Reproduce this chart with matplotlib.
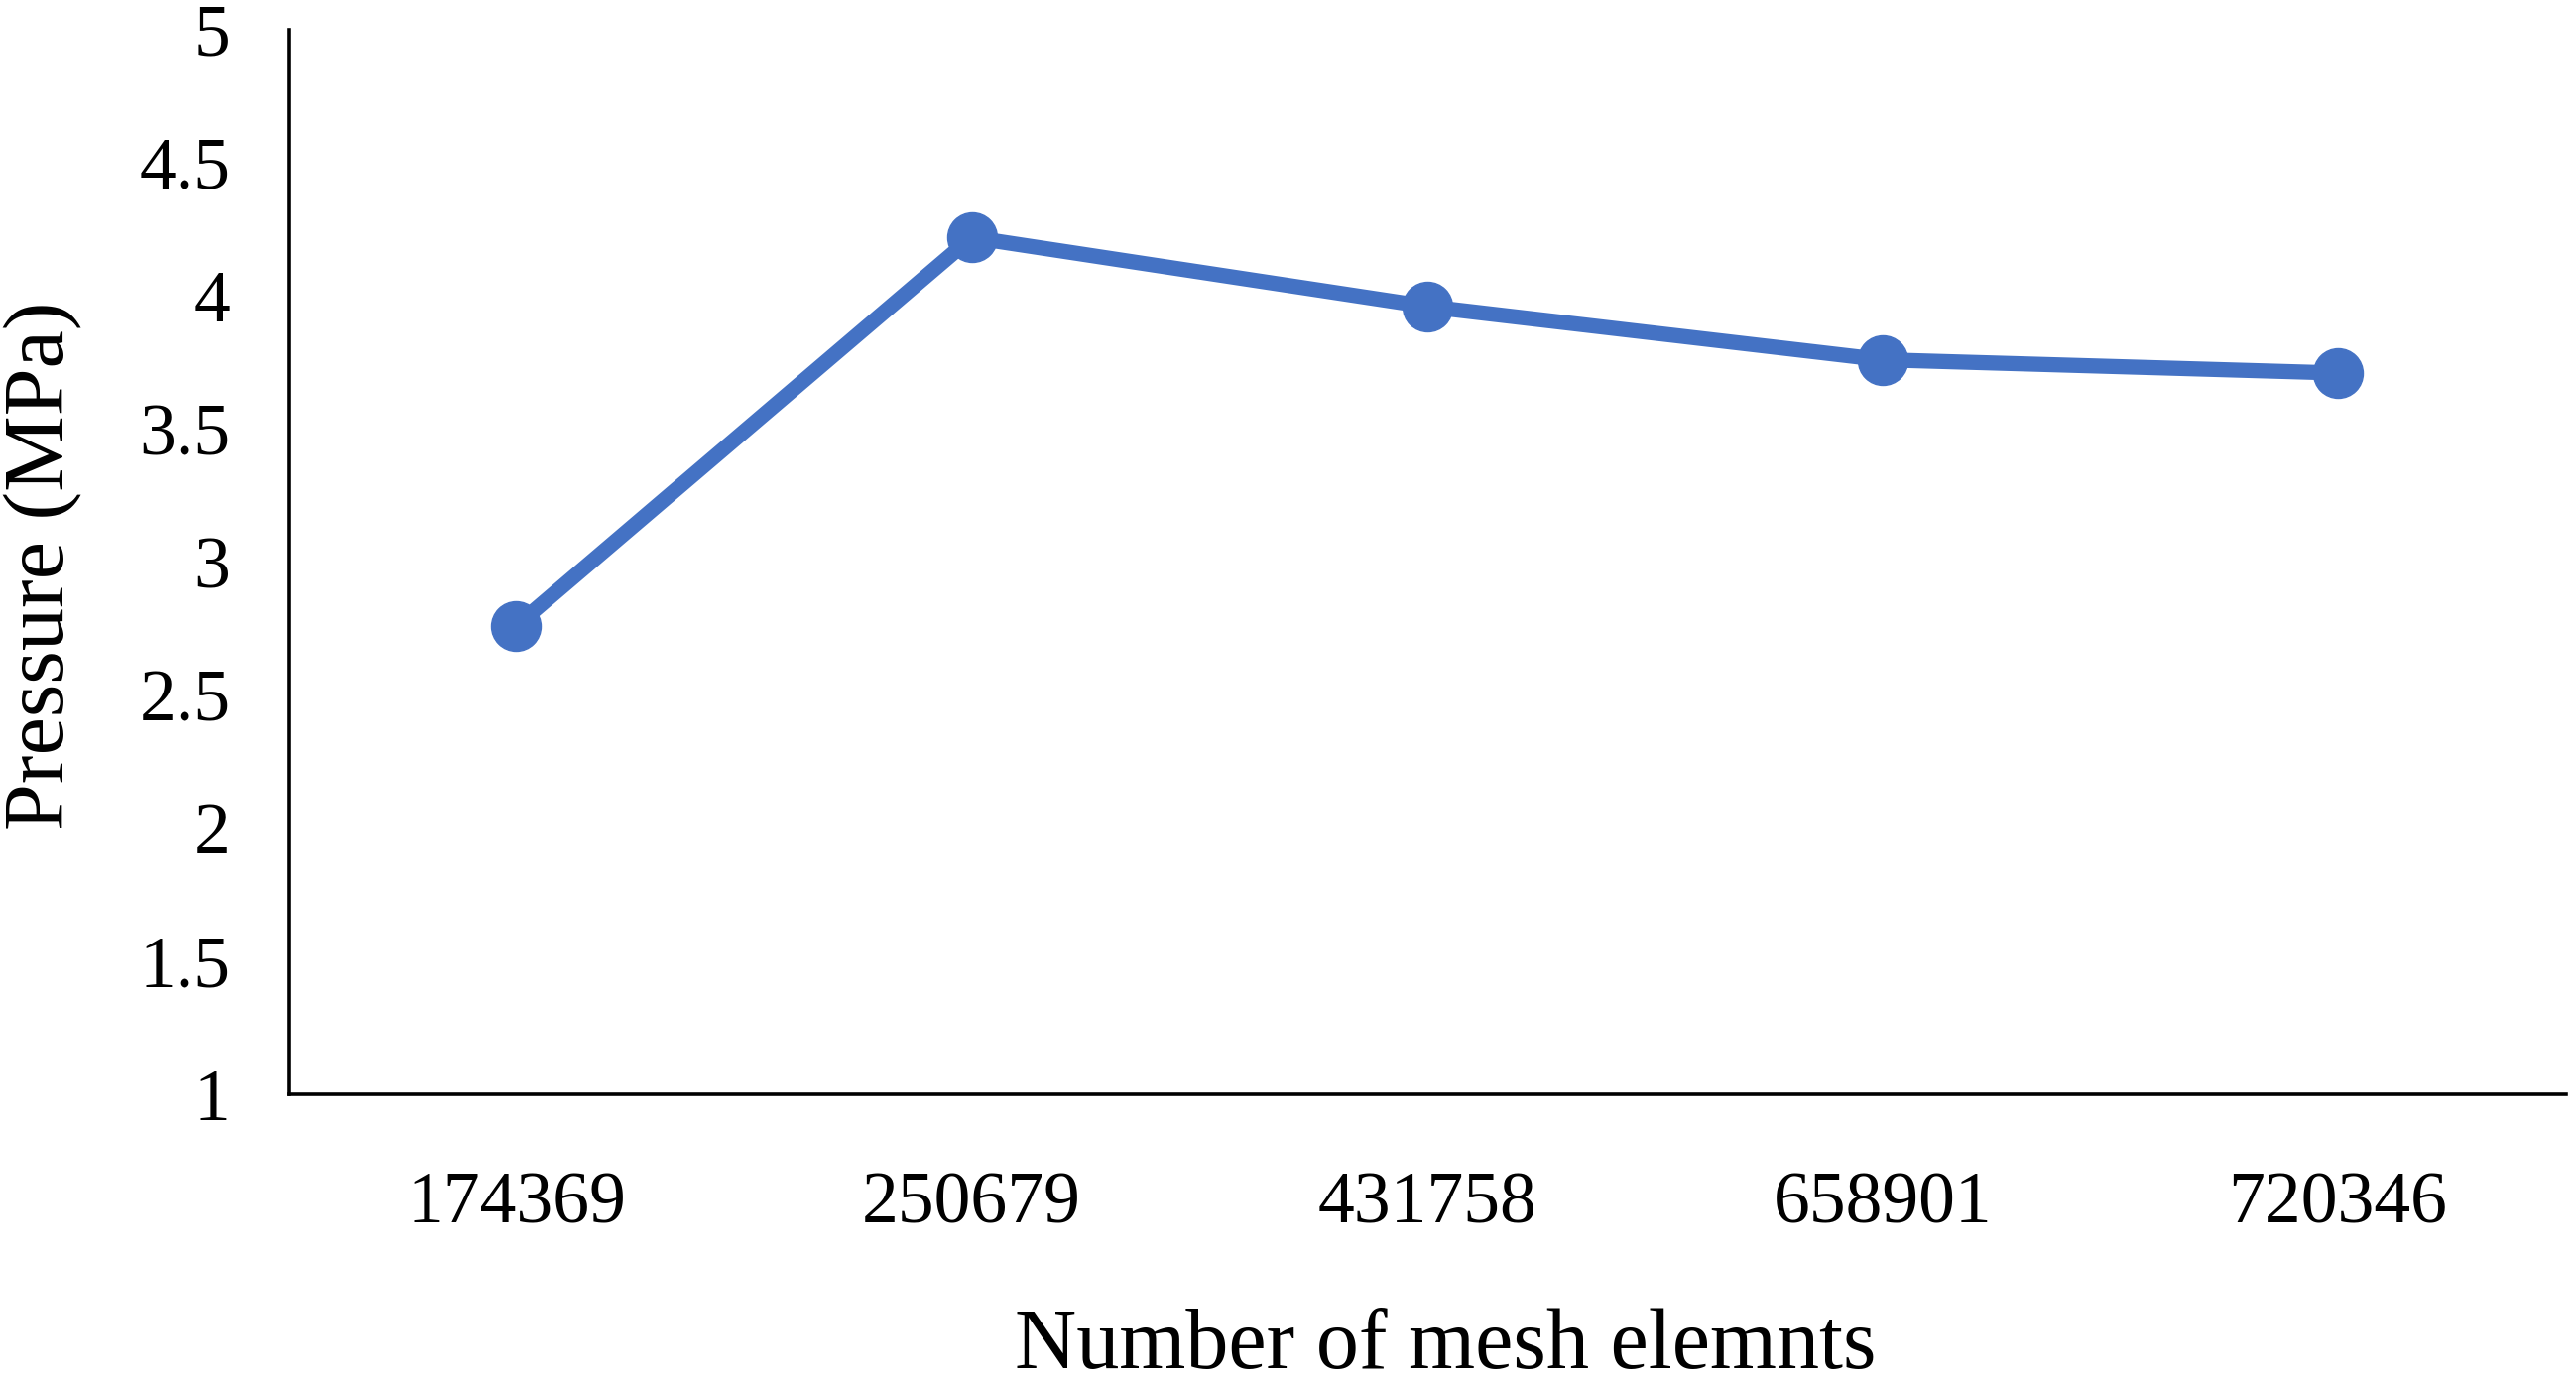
import matplotlib.pyplot as plt

# mesh independence data
mesh_elements = ['174369', '250679', '431758', '658901', '720346']
pressure = [2.76, 4.22, 3.96, 3.76, 3.71]
y_ticks = [1, 1.5, 2, 2.5, 3, 3.5, 4, 4.5, 5]
y_tick_labels = ['1', '1.5', '2', '2.5', '3', '3.5', '4', '4.5', '5']

plt.rcParams['font.family'] = ['Liberation Serif', 'DejaVu Serif']

fig = plt.figure(figsize=(25.97, 13.96), dpi=100)
ax = fig.add_axes([0.112, 0.21, 0.884, 0.7685])

ax.plot(range(len(mesh_elements)), pressure, linestyle='-', color='#4472C4',
        linewidth=11, marker='o', markersize=36, solid_capstyle='round')

ax.set_xlim(-0.5, len(mesh_elements) - 0.5)
ax.set_ylim(1, 5)
ax.set_xticks(range(len(mesh_elements)))
ax.set_xticklabels(mesh_elements)
ax.set_yticks(y_ticks)
ax.set_yticklabels(y_tick_labels)
ax.tick_params(axis='both', length=0, labelsize=53)
ax.tick_params(axis='x', pad=56)
ax.tick_params(axis='y', pad=42)

for side in ['top', 'right']:
    ax.spines[side].set_visible(False)
for side in ['left', 'bottom']:
    ax.spines[side].set_linewidth(2.6)

ax.set_xlabel('Number of mesh elemnts', fontsize=62)
ax.set_ylabel('Pressure (MPa)', fontsize=62)
ax.xaxis.set_label_coords(0.508, -0.238)
ax.yaxis.set_label_coords(-0.108, 0.496)
ax.xaxis.label.set_verticalalignment('center')
ax.yaxis.label.set_verticalalignment('center')

plt.savefig('out.png', dpi=100)
plt.close('all')
